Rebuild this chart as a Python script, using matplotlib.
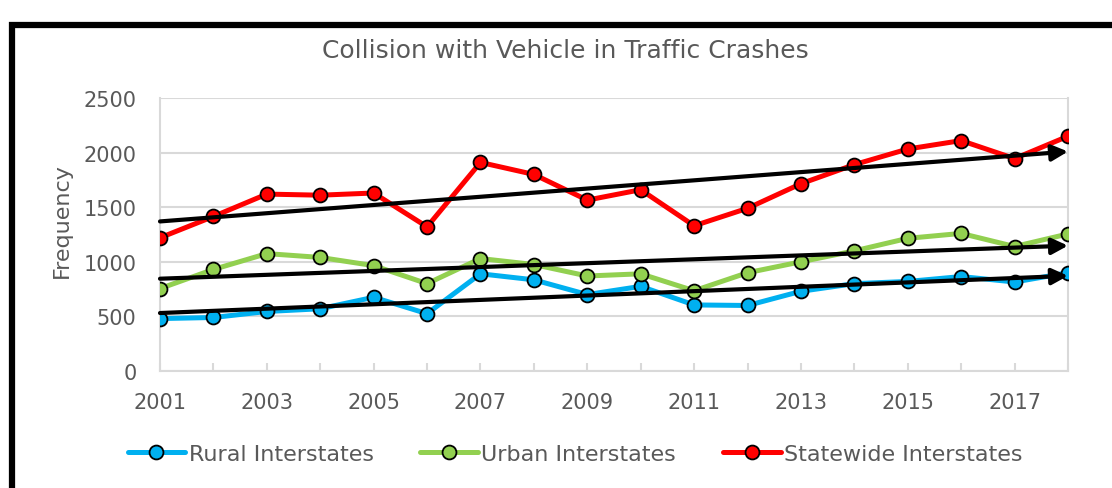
import numpy as np
import matplotlib
matplotlib.use("Agg")
import matplotlib.pyplot as plt
from matplotlib.patches import Rectangle

years = list(range(2001, 2019))
rural = [480, 490, 545, 570, 675, 525, 890, 835, 700, 775, 605, 600, 730, 800, 820, 865, 815, 900]
urban = [755, 930, 1075, 1040, 965, 800, 1030, 975, 870, 890, 735, 900, 1000, 1100, 1215, 1260, 1140, 1255]
statewide = [1220, 1415, 1620, 1610, 1630, 1320, 1910, 1800, 1565, 1660, 1330, 1490, 1715, 1890, 2033, 2110, 1945, 2150]
names = ["Rural Interstates", "Urban Interstates", "Statewide Interstates"]
colors = ["#00B0F0", "#92D050", "#FF0000"]
gray = "#595959"

plt.rcParams["font.family"] = ["DejaVu Sans"]
fig = plt.figure(figsize=(11.12, 4.89), dpi=100)
ax = fig.add_axes([160 / 1112, 1 - 372 / 489, 908 / 1112, 273 / 489])

for vals, name, c in zip([rural, urban, statewide], names, colors):
    ax.plot(years, vals, color=c, lw=3.6, marker="o", ms=10, mfc=c, mec="black", mew=1.3,
            label=name, zorder=3, solid_capstyle="round")

# linear trends drawn as arrows
x = np.array(years)
for vals in [rural, urban, statewide]:
    k, b = np.polyfit(x, vals, 1)
    ax.annotate("", xy=(x[-1], k * x[-1] + b), xytext=(x[0], k * x[0] + b),
                arrowprops=dict(arrowstyle="-|>", color="black", lw=3, mutation_scale=24,
                                shrinkA=0, shrinkB=0), zorder=5, annotation_clip=False)

ax.set_xlim(2001, 2018)
ax.set_ylim(0, 2500)
ax.set_yticks(range(0, 2501, 500))
ax.set_xticks(years)
ax.set_xticklabels([str(y) if (y - 2001) % 2 == 0 else "" for y in years])
ax.grid(axis="y", color="#D9D9D9", lw=1.5)
ax.set_axisbelow(True)
for s in ["left", "right", "bottom"]:
    ax.spines[s].set_color("#D9D9D9")
    ax.spines[s].set_linewidth(1.5)
ax.spines["top"].set_visible(False)
ax.tick_params(axis="x", direction="in", colors="#D9D9D9", length=6, width=1.5,
               labelcolor=gray, labelsize=15, pad=15)
ax.tick_params(axis="y", length=0, labelcolor=gray, labelsize=15, pad=17)
ax.set_ylabel("Frequency", color=gray, fontsize=16)
ax.yaxis.set_label_coords(-88 / 908, (372 - 221) / 273)
fig.text(565 / 1112, 1 - 51 / 489, "Collision with Vehicle in Traffic Crashes", ha="center", va="center",
         color=gray, fontsize=18)

fig.legend(loc="center", bbox_to_anchor=(575 / 1112, 1 - 455 / 489), ncol=3, frameon=False,
           fontsize=16, labelcolor=gray, handlelength=2.6, handletextpad=0.15, columnspacing=2.1)

fig.patches.append(Rectangle((11.5, -100), 1300, 576 - 13, transform=None, fill=False,
                             ec="black", lw=4.5))
fig.savefig("out.png", dpi=100)
